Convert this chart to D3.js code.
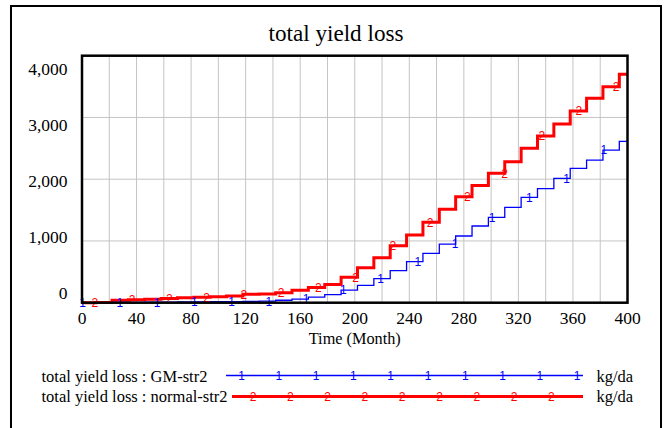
<!DOCTYPE html>
<html>
<head>
<meta charset="utf-8">
<script src="https://cdn.jsdelivr.net/npm/d3@7"></script>
<style>
  html, body { margin: 0; padding: 0; background: #fff; }
  svg { display: block; }
</style>
</head>
<body>
<svg id="chart" width="667" height="428"></svg>
<script>
// ---- data ----
const title = "total yield loss";
const xLabel = "Time (Month)";
const unit = "kg/da";
const seriesNames = ["total yield loss : GM-str2", "total yield loss : normal-str2"];
const stepMonths = [10,22,34,46,58,70,82,94,106,118,130,142,154,166,178,190,202,214,226,238,250,262,274,286,298,310,322,334,346,358,370,382,394];
const gmStr2 = [2,4,6,8,10,12,14,16,18,20,24,40,58,90,130,205,280,389,518,664,800,950,1080,1242,1383,1545,1706,1846,2014,2176,2310,2472,2613];
const normalStr2 = [5,40,48,56,68,80,88,96,108,135,142,160,200,245,295,411,567,729,923,1096,1301,1512,1716,1900,2095,2283,2500,2699,2893,3104,3309,3497,3698];
const startValue = 0;
const xTicks = [0,40,80,120,160,200,240,280,320,360,400];
const yTicks = [0,1000,2000,3000,4000];

// ---- layout ----
const SERIF = "'Liberation Serif', 'Times New Roman', Times, serif";
const SANS = "'Liberation Sans', Arial, sans-serif";
const svg = d3.select("#chart");
const L = 82, R = 627.5, T = 55.7, B = 302.7;
const x = d3.scaleLinear().domain([0, 400]).range([L, R]);
const y = d3.scaleLinear().domain([0, 4000]).range([B, T]);
const yLab = d3.scaleLinear().domain([0, 4000]).range([292.5, 69]);

function serif(sel, size) {
  return sel.style("font-family", SERIF).style("font-size", size + "px").style("fill", "#000");
}

// outer frame
svg.append("rect").attr("x", 11).attr("y", 6).attr("width", 650).attr("height", 440)
  .attr("fill", "none").attr("stroke", "#000").attr("stroke-width", 2);

// title
serif(svg.append("text"), 24).attr("x", 336).attr("y", 41).attr("text-anchor", "middle")
  .attr("textLength", 135).attr("lengthAdjust", "spacingAndGlyphs")
  .text(title);

// grid
const gx = d3.range(20, 400, 20);
svg.append("g").selectAll("line").data(gx).join("line")
  .attr("x1", d => x(d)).attr("x2", d => x(d)).attr("y1", T).attr("y2", B)
  .attr("stroke", "#c4c4c4").attr("stroke-width", 1);
svg.append("g").selectAll("line").data(yTicks.filter(v => v > 0 && v < 4000)).join("line")
  .attr("x1", L).attr("x2", R).attr("y1", d => y(d)).attr("y2", d => y(d))
  .attr("stroke", "#c4c4c4").attr("stroke-width", 1);

// axes labels
serif(svg.append("g").selectAll("text").data(xTicks).join("text"), 17.5)
  .attr("x", d => x(d)).attr("y", 323.5).attr("text-anchor", "middle")
  .text(d => d3.format(",")(d));
serif(svg.append("g").selectAll("text").data(yTicks).join("text"), 17.5)
  .attr("x", 67.5).attr("y", d => yLab(d)).attr("dy", "0.35em").attr("text-anchor", "end")
  .text(d => d3.format(",")(d));
serif(svg.append("text"), 17.5).attr("x", (L + R) / 2).attr("y", 343.5).attr("text-anchor", "middle")
  .attr("textLength", 92).attr("lengthAdjust", "spacingAndGlyphs")
  .text(xLabel);

// series
function pts(vals) {
  const p = [[0, startValue]];
  stepMonths.forEach((m, i) => p.push([m, vals[i]]));
  p.push([400, vals[vals.length - 1]]);
  return p;
}
function valueAt(vals, t) {
  let v = startValue;
  stepMonths.forEach((m, i) => { if (m <= t) v = vals[i]; });
  return v;
}
const line = d3.line().x(d => x(d[0])).y(d => y(d[1])).curve(d3.curveStepAfter);
const series = [
  { vals: gmStr2, color: "#0000ff", width: 1.3, label: "1", mStart: 0.5 },
  { vals: normalStr2, color: "#ff0000", width: 3, label: "2", mStart: 9.5 }
];
const plot = svg.append("g");
// red first, then blue on top
[series[1], series[0]].forEach(s => {
  plot.append("path").attr("d", line(pts(s.vals))).attr("fill", "none")
    .attr("stroke", s.color).attr("stroke-width", s.width).attr("stroke-linejoin", "miter");
});
const spacing = 27.3;
series.forEach(s => {
  const ms = d3.range(0, 15).map(k => s.mStart + k * spacing).filter(m => m <= 400);
  plot.append("g").selectAll("text").data(ms).join("text")
    .style("font-family", SANS).style("font-size", "12px").style("fill", s.color)
    .attr("x", d => x(d)).attr("y", d => y(valueAt(s.vals, d))).attr("dy", "0.36em")
    .attr("text-anchor", "middle")
    .text(s.label);
});

// plot border
svg.append("rect").attr("x", L).attr("y", T).attr("width", R - L).attr("height", B - T)
  .attr("fill", "none").attr("stroke", "#000").attr("stroke-width", 2.5);

// legend
const leg = [
  { s: series[0], ty: 381.5, ly: 375.5, x0: 226, mk0: 241.5, n: 10 },
  { s: series[1], ty: 401.5, ly: 396.5, x0: 232, mk0: 253, n: 9 }
];
leg.forEach((g, i) => {
  serif(svg.append("text"), 16.5).attr("x", 41.5).attr("y", g.ty).text(seriesNames[i]);
  svg.append("line").attr("x1", g.x0).attr("x2", 583).attr("y1", g.ly).attr("y2", g.ly)
    .attr("stroke", g.s.color).attr("stroke-width", g.s.width);
  svg.append("g").selectAll("text").data(d3.range(g.n)).join("text")
    .style("font-family", SANS).style("font-size", "12px").style("fill", g.s.color)
    .attr("x", k => g.mk0 + k * 37.3).attr("y", g.ly).attr("dy", "0.36em")
    .attr("text-anchor", "middle")
    .text(g.s.label);
  serif(svg.append("text"), 16.5).attr("x", 596.5).attr("y", g.ty).text(unit);
});
</script>
</body>
</html>
